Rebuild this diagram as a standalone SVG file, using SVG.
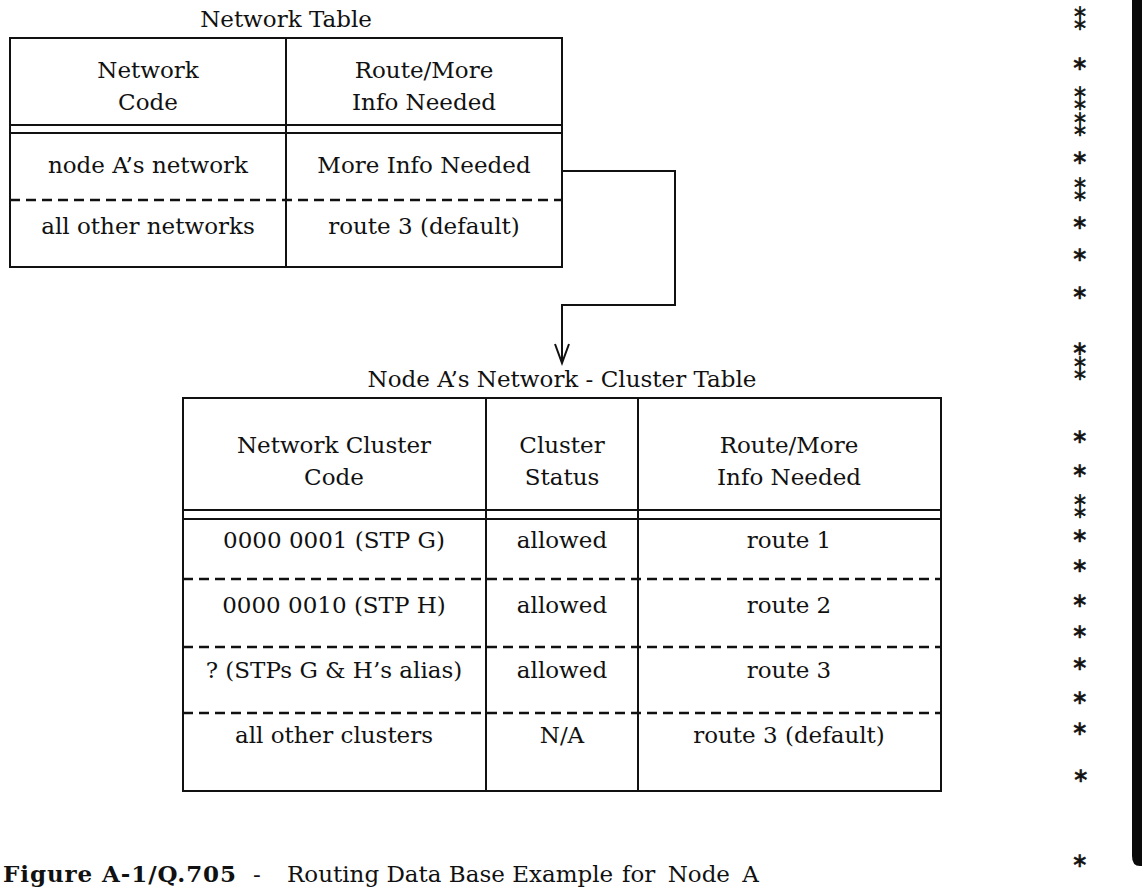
<svg xmlns="http://www.w3.org/2000/svg" width="1142" height="891" viewBox="0 0 1142 891">
<defs>
<style>
text{font-family:"DejaVu Serif","Liberation Serif",serif;font-size:23px;fill:#111;}
.c{text-anchor:middle;}
.ln{stroke:#111;stroke-width:2;fill:none;}
.dash{stroke:#111;stroke-width:2.5;fill:none;stroke-dasharray:10 6;}
.ast{font-family:"DejaVu Sans",sans-serif;font-size:20px;text-anchor:middle;stroke:#111;stroke-width:0.6;}
.dbl{font-family:"DejaVu Sans",sans-serif;font-size:24px;text-anchor:middle;stroke:#111;stroke-width:0.6;}
.cap{font-size:23px;}
</style>
</defs>
<rect width="1142" height="891" fill="#fff"/>

<g id="network-table">
<text class="c" x="286" y="27">Network Table</text>
<rect class="ln" x="10" y="38" width="552" height="229"/>
<line class="ln" x1="286" y1="38" x2="286" y2="267"/>
<line class="ln" x1="10" y1="125" x2="562" y2="125"/>
<line class="ln" x1="10" y1="133" x2="562" y2="133"/>
<line class="dash" x1="10" y1="200" x2="562" y2="200"/>
<text class="c" x="148" y="78">Network</text>
<text class="c" x="148" y="110">Code</text>
<text class="c" x="424" y="78">Route/More</text>
<text class="c" x="424" y="110">Info Needed</text>
<text class="c" x="148" y="173">node A’s network</text>
<text class="c" x="424" y="173">More Info Needed</text>
<text class="c" x="148" y="234">all other networks</text>
<text class="c" x="424" y="234">route 3 (default)</text>
</g>

<g id="connectors">
<polyline class="ln" points="562,171 675,171 675,305 562,305 562,362"/>
<polyline class="ln" points="555,344 562,363 569,344"/>
</g>

<g id="cluster-table">
<text class="c" x="562" y="387">Node A’s Network - Cluster Table</text>
<rect class="ln" x="183" y="398" width="758" height="393"/>
<line class="ln" x1="486" y1="398" x2="486" y2="791"/>
<line class="ln" x1="638" y1="398" x2="638" y2="791"/>
<line class="ln" x1="183" y1="510" x2="941" y2="510"/>
<line class="ln" x1="183" y1="519" x2="941" y2="519"/>
<line class="dash" x1="183" y1="579" x2="941" y2="579"/>
<line class="dash" x1="183" y1="647" x2="941" y2="647"/>
<line class="dash" x1="183" y1="713" x2="941" y2="713"/>
<text class="c" x="334" y="453">Network Cluster</text>
<text class="c" x="334" y="485">Code</text>
<text class="c" x="562" y="453">Cluster</text>
<text class="c" x="562" y="485">Status</text>
<text class="c" x="789" y="453">Route/More</text>
<text class="c" x="789" y="485">Info Needed</text>
<text class="c" x="334" y="548">0000 0001 (STP G)</text>
<text class="c" x="562" y="548">allowed</text>
<text class="c" x="789" y="548">route 1</text>
<text class="c" x="334" y="613">0000 0010 (STP H)</text>
<text class="c" x="562" y="613">allowed</text>
<text class="c" x="789" y="613">route 2</text>
<text class="c" x="334" y="678">? (STPs G &amp; H’s alias)</text>
<text class="c" x="562" y="678">allowed</text>
<text class="c" x="789" y="678">route 3</text>
<text class="c" x="334" y="743">all other clusters</text>
<text class="c" x="562" y="743">N/A</text>
<text class="c" x="789" y="743">route 3 (default)</text>
</g>

<g id="caption">
<text class="cap" x="3" y="882"><tspan font-weight="bold" textLength="233" lengthAdjust="spacing">Figure A-1/Q.705</tspan><tspan x="253">-</tspan><tspan x="287">Routing Data Base Example</tspan><tspan x="622" word-spacing="5">for Node A</tspan></text>
</g>

<g id="margin-marks">
<text class="dbl" x="1080" y="30">⁑</text>
<text class="ast" x="1080" y="70">∗</text>
<text class="dbl" x="1080" y="110">⁑</text>
<text class="dbl" x="1080" y="136">⁑</text>
<text class="ast" x="1080" y="164">∗</text>
<text class="dbl" x="1080" y="201">⁑</text>
<text class="ast" x="1080" y="229">∗</text>
<text class="ast" x="1080" y="261">∗</text>
<text class="ast" x="1080" y="299">∗</text>
<text class="ast" x="1080" y="355">∗</text>
<text class="dbl" x="1080" y="380">⁑</text>
<text class="ast" x="1080" y="443">∗</text>
<text class="ast" x="1080" y="477">∗</text>
<text class="dbl" x="1080" y="518">⁑</text>
<text class="ast" x="1080" y="542">∗</text>
<text class="ast" x="1080" y="572">∗</text>
<text class="ast" x="1080" y="607">∗</text>
<text class="ast" x="1080" y="638">∗</text>
<text class="ast" x="1080" y="670">∗</text>
<text class="ast" x="1080" y="704">∗</text>
<text class="ast" x="1080" y="735">∗</text>
<text class="ast" x="1081" y="782">∗</text>
<text class="ast" x="1080" y="867">∗</text>
</g>

<path d="M1132 0 H1142 V866 H1140 Q1132 866 1132 856 Z" fill="#0a0a0a"/>
</svg>
